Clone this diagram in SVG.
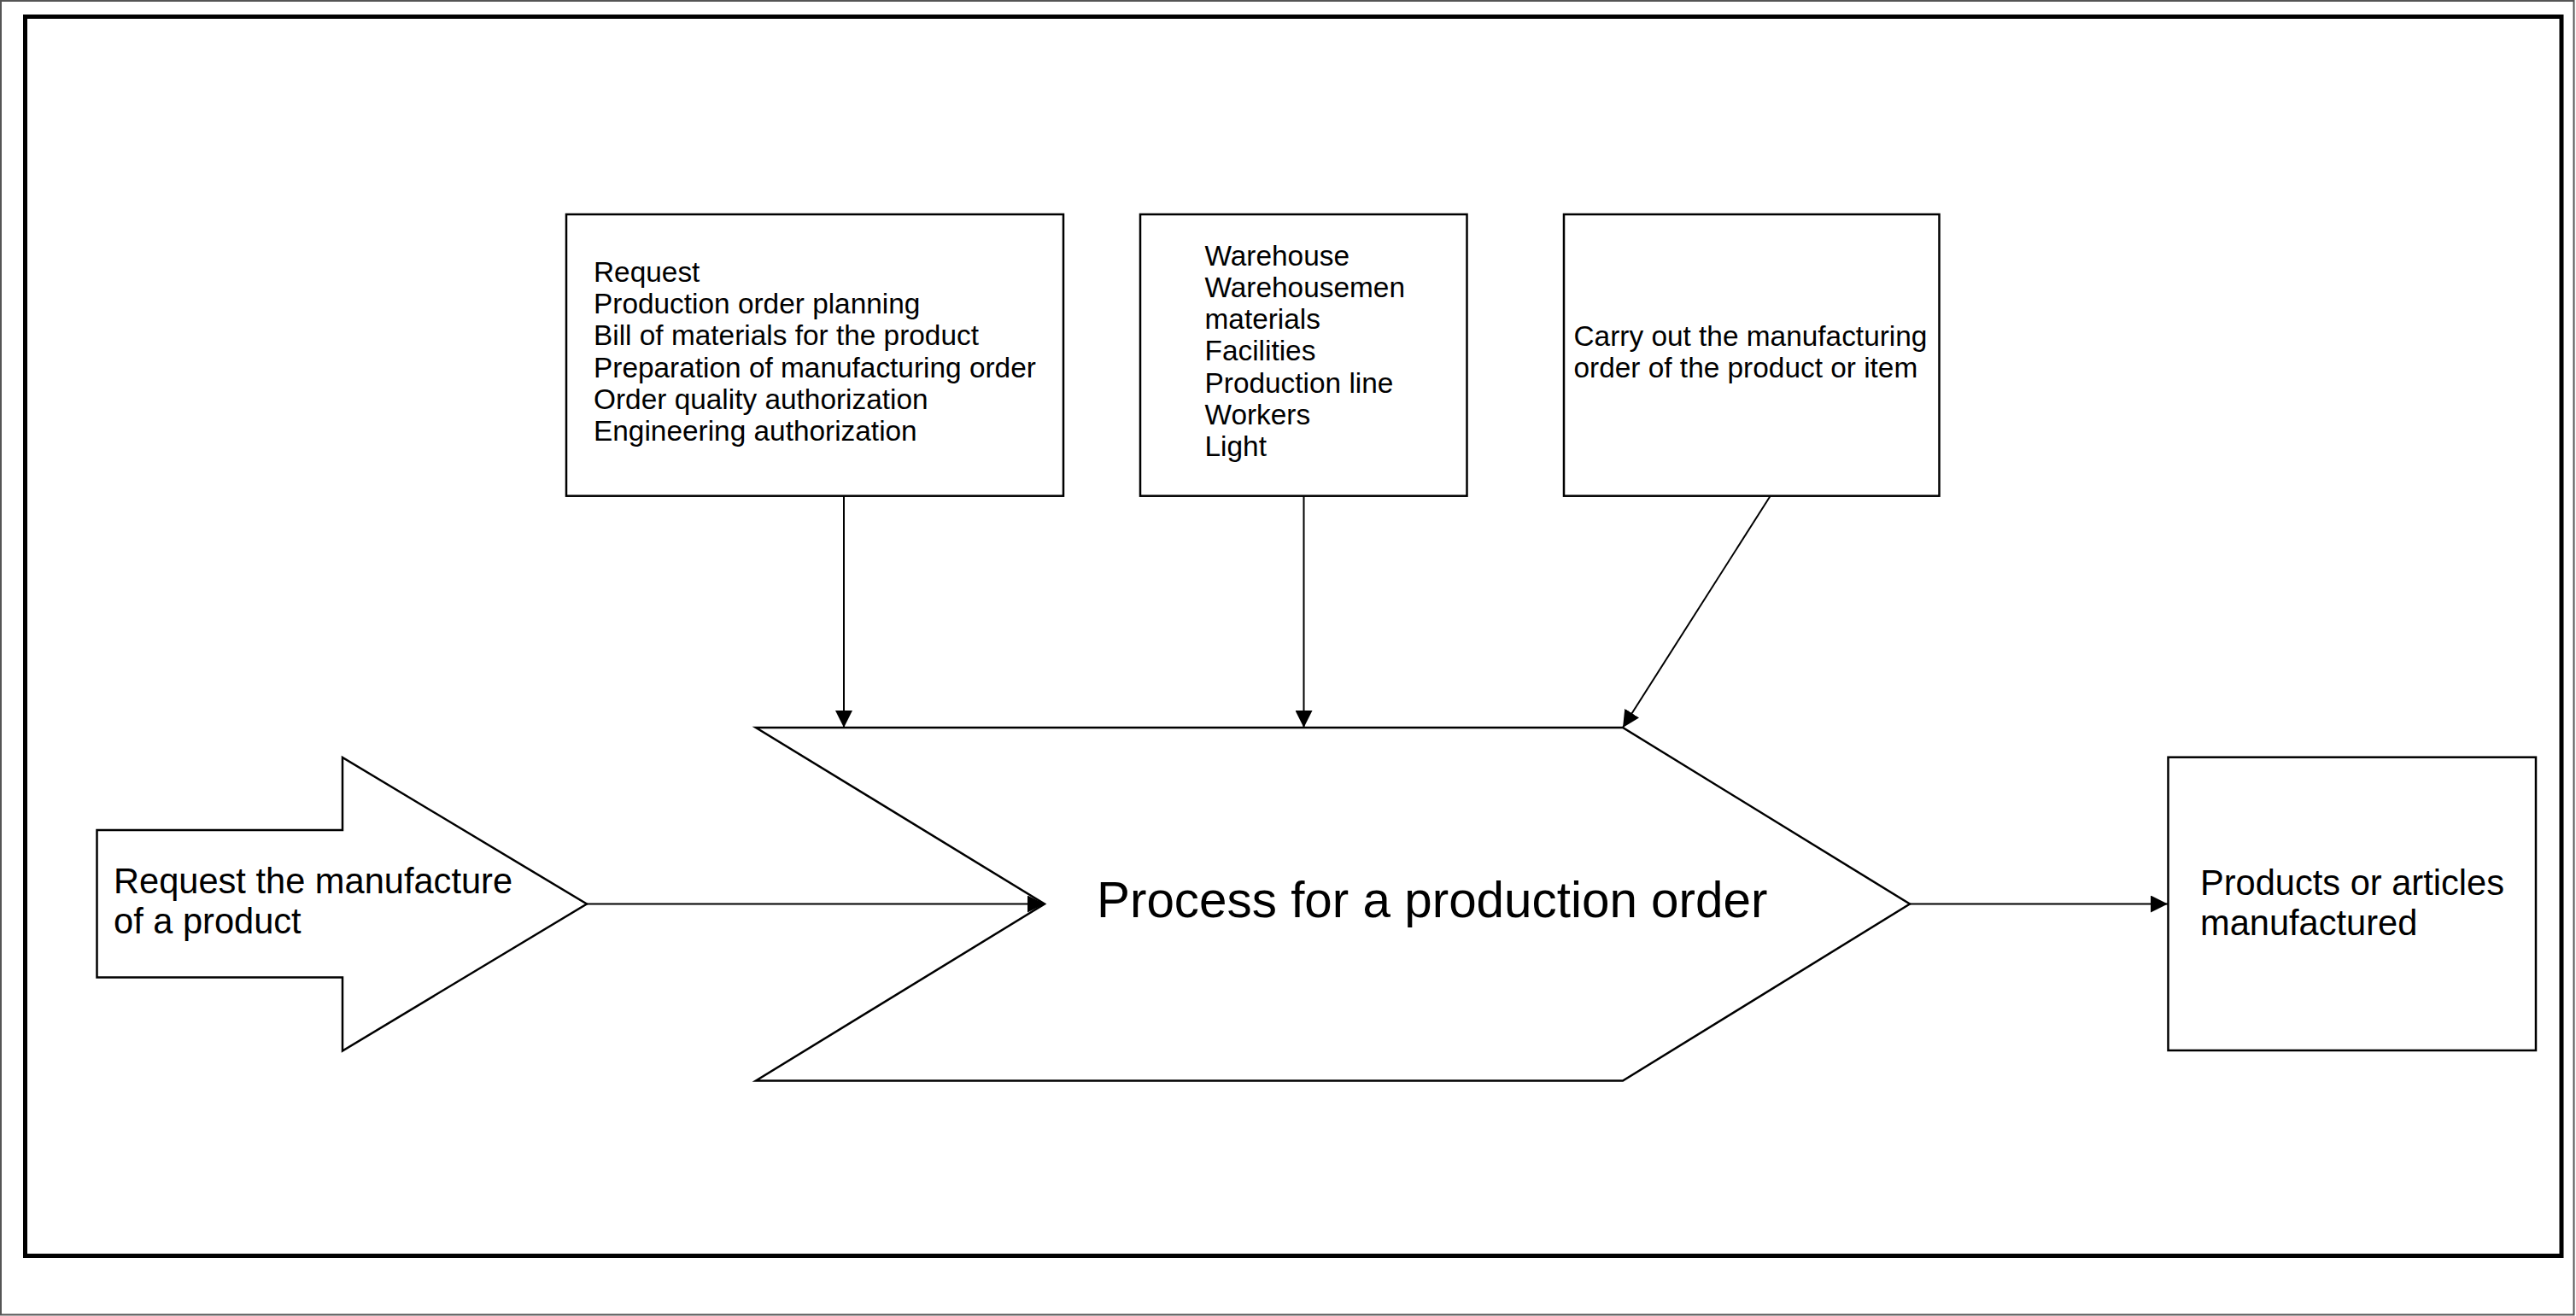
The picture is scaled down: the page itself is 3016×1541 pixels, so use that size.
<svg xmlns="http://www.w3.org/2000/svg" width="3016" height="1541" viewBox="0 0 3016 1541">
<style>
.shape{fill:#fff;stroke:#000;stroke-width:2.5}
.conn{fill:none;stroke:#000;stroke-width:2}
.t{font-family:"Liberation Sans",Arial,sans-serif;fill:#000}
.s33{font-size:33.4px}
.s41{font-size:41.6px}
.s58{font-size:58.4px}
</style>
<defs>
<marker id="ah" viewBox="0 0 20 20" refX="20" refY="10" markerWidth="20" markerHeight="20" markerUnits="userSpaceOnUse" orient="auto">
<path d="M0,0 L20,10 L0,20 z" fill="#000"/>
</marker>
</defs>
<rect x="0" y="0" width="3016" height="1541" fill="#fff"/>
<rect x="1" y="1" width="3012.5" height="1538.5" fill="none" stroke="#555" stroke-width="2"/>
<rect id="frame" x="29.5" y="19.5" width="2969.5" height="1451" fill="none" stroke="#000" stroke-width="5"/>

<g id="connectors">
<line class="conn" x1="988" y1="580.7" x2="988" y2="852" marker-end="url(#ah)"/>
<line class="conn" x1="1526.5" y1="580.7" x2="1526.5" y2="852" marker-end="url(#ah)"/>
<line class="conn" x1="2072.7" y1="580.7" x2="1900" y2="852" marker-end="url(#ah)"/>
<line class="conn" x1="687" y1="1058.5" x2="1223" y2="1058.5" marker-end="url(#ah)"/>
<line class="conn" x1="2236" y1="1058.5" x2="2538" y2="1058.5" marker-end="url(#ah)"/>
</g>

<g id="box-inputs">
<rect class="shape" x="663" y="251" width="582" height="329.7"/>
<text class="t s33" x="695">
<tspan x="695" y="330">Request</tspan>
<tspan x="695" y="367.2">Production order planning</tspan>
<tspan x="695" y="404.4">Bill of materials for the product</tspan>
<tspan x="695" y="441.6">Preparation of manufacturing order</tspan>
<tspan x="695" y="478.8">Order quality authorization</tspan>
<tspan x="695" y="516">Engineering authorization</tspan>
</text>
</g>

<g id="box-resources">
<rect class="shape" x="1335" y="251" width="382.5" height="329.7"/>
<text class="t s33" x="1410.5">
<tspan x="1410.5" y="310.7">Warehouse</tspan>
<tspan x="1410.5" y="347.9">Warehousemen</tspan>
<tspan x="1410.5" y="385.1">materials</tspan>
<tspan x="1410.5" y="422.3">Facilities</tspan>
<tspan x="1410.5" y="459.5">Production line</tspan>
<tspan x="1410.5" y="496.7">Workers</tspan>
<tspan x="1410.5" y="533.9">Light</tspan>
</text>
</g>

<g id="box-control">
<rect class="shape" x="1831" y="251" width="439.5" height="329.7"/>
<text class="t s33" x="1842.5">
<tspan x="1842.5" y="405">Carry out the manufacturing</tspan>
<tspan x="1842.5" y="442.2">order of the product or item</tspan>
</text>
</g>

<g id="input-arrow">
<polygon class="shape" points="113.5,972 401,972 401,887 687,1058.5 401,1230.5 401,1144.5 113.5,1144.5"/>
<text class="t s41" x="133">
<tspan x="133" y="1046">Request the manufacture</tspan>
<tspan x="133" y="1093">of a product</tspan>
</text>
</g>

<g id="process">
<polygon class="shape" points="885,852 1900,852 2236,1058.5 1900,1265.5 885,1265.5 1223,1058.5"/>
<text class="t s58" x="1284" y="1074">Process for a production order</text>
</g>

<g id="output">
<rect class="shape" x="2538.5" y="886.7" width="430.5" height="343.3"/>
<text class="t s41" x="2576">
<tspan x="2576" y="1048">Products or articles</tspan>
<tspan x="2576" y="1095">manufactured</tspan>
</text>
</g>
</svg>
